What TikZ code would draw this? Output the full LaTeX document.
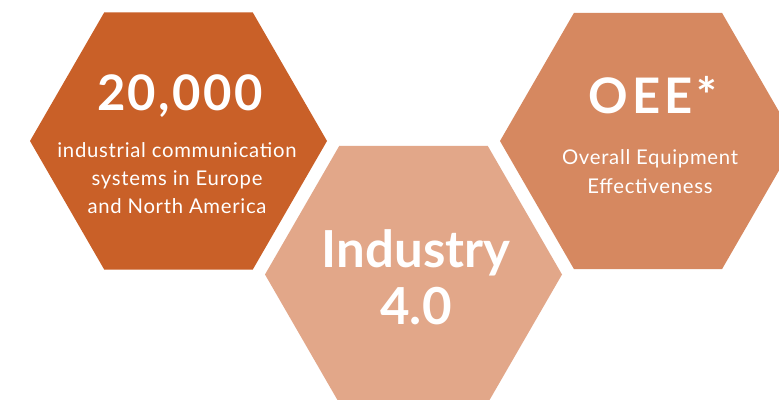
\documentclass[tikz,border=0pt]{standalone}
\usepackage{fontspec}
\setmainfont{Lato}
\newfontfamily\bigfont{Lato Bold}
\newfontfamily\bignum[LetterSpace=5]{Lato Bold}
\newfontfamily\bigspaced[LetterSpace=8]{Lato Bold}
\newfontfamily\smallfont[LetterSpace=3.5]{Lato}
\definecolor{hexdark}{RGB}{201,96,40}
\definecolor{hexmid}{RGB}{214,136,96}
\definecolor{hexlight}{RGB}{226,167,137}
\tikzset{
  bigtxt/.style={text=white, inner sep=0pt, anchor=base, font=\bigfont\fontsize{49}{49}\selectfont},
  smalltxt/.style={text=white, inner sep=0pt, anchor=base, font=\smallfont\fontsize{20.3}{20.3}\selectfont},
}
\begin{document}
\begin{tikzpicture}[x=1pt,y=-1pt]
\useasboundingbox (0,0) rectangle (779,399);
\fill[white] (0,0) rectangle (779,399);
\clip (0,0) rectangle (779,399);
\coordinate (c1) at (178.5,141);
\coordinate (c2) at (413.5,274.5);
\coordinate (c3) at (648,141);
\fill[hexdark] (c1) +(0:148.5) -- +(60:148.5) -- +(120:148.5) -- +(180:148.5) -- +(240:148.5) -- +(300:148.5) -- cycle;
\fill[hexlight] (c2) +(0:148.5) -- +(60:148.5) -- +(120:148.5) -- +(180:148.5) -- +(240:148.5) -- +(300:148.5) -- cycle;
\fill[hexmid] (c3) +(0:148) -- +(60:148) -- +(120:148) -- +(180:148) -- +(240:148) -- +(300:148) -- cycle;
% hexagon 1
\node[bigtxt, font=\bignum\fontsize{49}{49}\selectfont] (n1) at (180,110) {20,000};
\node[smalltxt] (l1a) at (177,157) {industrial communication};
\node[smalltxt] (l1b) at (177,185) {systems in Europe};
\node[smalltxt] (l1c) at (177,213) {and North America};
% hexagon 2
\node[bigtxt, font=\bigfont\fontsize{51}{51}\selectfont] (n2a) at (416,267) {Industry};
\node[bigtxt, font=\bigfont\fontsize{51}{51}\selectfont] (n2b) at (416,324) {4.0};
% hexagon 3
\node[bigtxt, font=\bigspaced\fontsize{49}{49}\selectfont] (n3) at (653,113) {OEE*};
\node[smalltxt] (l3a) at (650,164) {Overall Equipment};
\node[smalltxt] (l3b) at (650,193) {Effectiveness};
\end{tikzpicture}
\end{document}
